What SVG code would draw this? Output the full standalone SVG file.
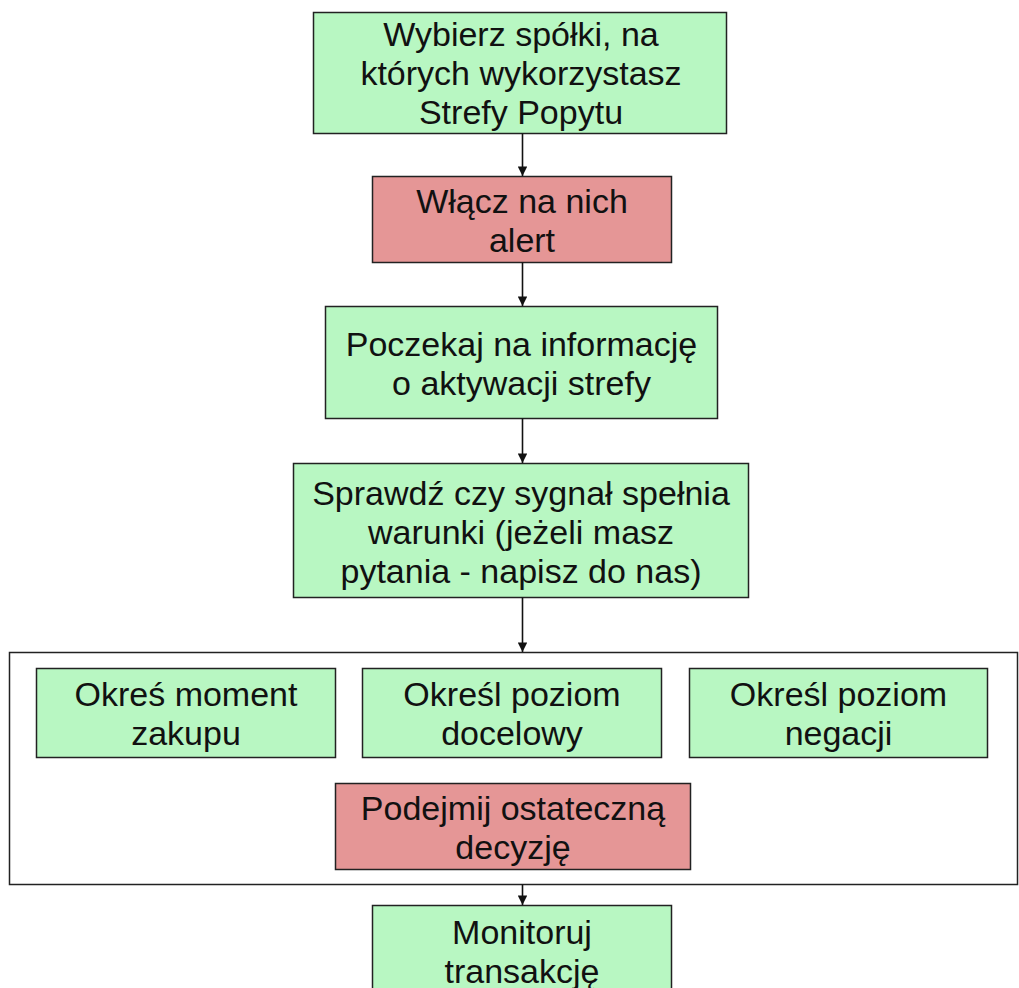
<svg xmlns="http://www.w3.org/2000/svg" width="1019" height="988" viewBox="0 0 1019 988">
<style>
.g{fill:#b8f7c2;stroke:#222;stroke-width:1.5}
.r{fill:#e59696;stroke:#222;stroke-width:1.5}
.c{fill:#fff;stroke:#222;stroke-width:1.5}
text{font-family:"Liberation Sans",Arial,sans-serif;font-size:34px;fill:#111;text-anchor:middle}
.e{stroke:#111;stroke-width:1.6;fill:none;marker-end:url(#ah)}
</style>
<defs>
<marker id="ah" viewBox="0 0 10 10" refX="10" refY="5" markerWidth="6" markerHeight="6" markerUnits="strokeWidth" orient="auto">
<path d="M0,0L10,5L0,10z" fill="#111"/>
</marker>
</defs>
<rect width="1019" height="988" fill="#fff"/>
<g id="container"><rect class="c" x="9.5" y="652.5" width="1008" height="232"/></g>
<g id="n1"><rect class="g" x="313.5" y="12.5" width="413" height="121"/>
<text x="521" y="46">Wybierz spółki, na</text><text x="521" y="85">których wykorzystasz</text><text x="521" y="124">Strefy Popytu</text></g>
<g id="n2"><rect class="r" x="372.5" y="176.5" width="299" height="86"/>
<text x="522" y="213">Włącz na nich</text><text x="522" y="252">alert</text></g>
<g id="n3"><rect class="g" x="325.5" y="306.5" width="392" height="112"/>
<text x="521.5" y="356">Poczekaj na informację</text><text x="521.5" y="395">o aktywacji strefy</text></g>
<g id="n4"><rect class="g" x="293.5" y="463.5" width="455" height="134"/>
<text x="521" y="505">Sprawdź czy sygnał spełnia</text><text x="521" y="544">warunki (jeżeli masz</text><text x="521" y="583">pytania - napisz do nas)</text></g>
<g id="n5"><rect class="g" x="36.5" y="668.5" width="299" height="89"/>
<text x="186" y="706">Okreś moment</text><text x="186" y="745">zakupu</text></g>
<g id="n6"><rect class="g" x="362.5" y="668.5" width="299" height="89"/>
<text x="512" y="706">Określ poziom</text><text x="512" y="745">docelowy</text></g>
<g id="n7"><rect class="g" x="689.5" y="668.5" width="298" height="89"/>
<text x="838.5" y="706">Określ poziom</text><text x="838.5" y="745">negacji</text></g>
<g id="n8"><rect class="r" x="335.5" y="783.5" width="355" height="86"/>
<text x="513" y="820">Podejmij ostateczną</text><text x="513" y="859">decyzję</text></g>
<g id="n9"><rect class="g" x="372.5" y="905.5" width="299" height="90"/>
<text x="522" y="944">Monitoruj</text><text x="522" y="983">transakcję</text></g>
<g id="connectors">
<path class="e" d="M522.5,133.5V176"/>
<path class="e" d="M522.5,262.5V306"/>
<path class="e" d="M522.5,418.5V463"/>
<path class="e" d="M522.5,597.5V652"/>
<path class="e" d="M522.5,884.5V905"/>
</g>
</svg>
